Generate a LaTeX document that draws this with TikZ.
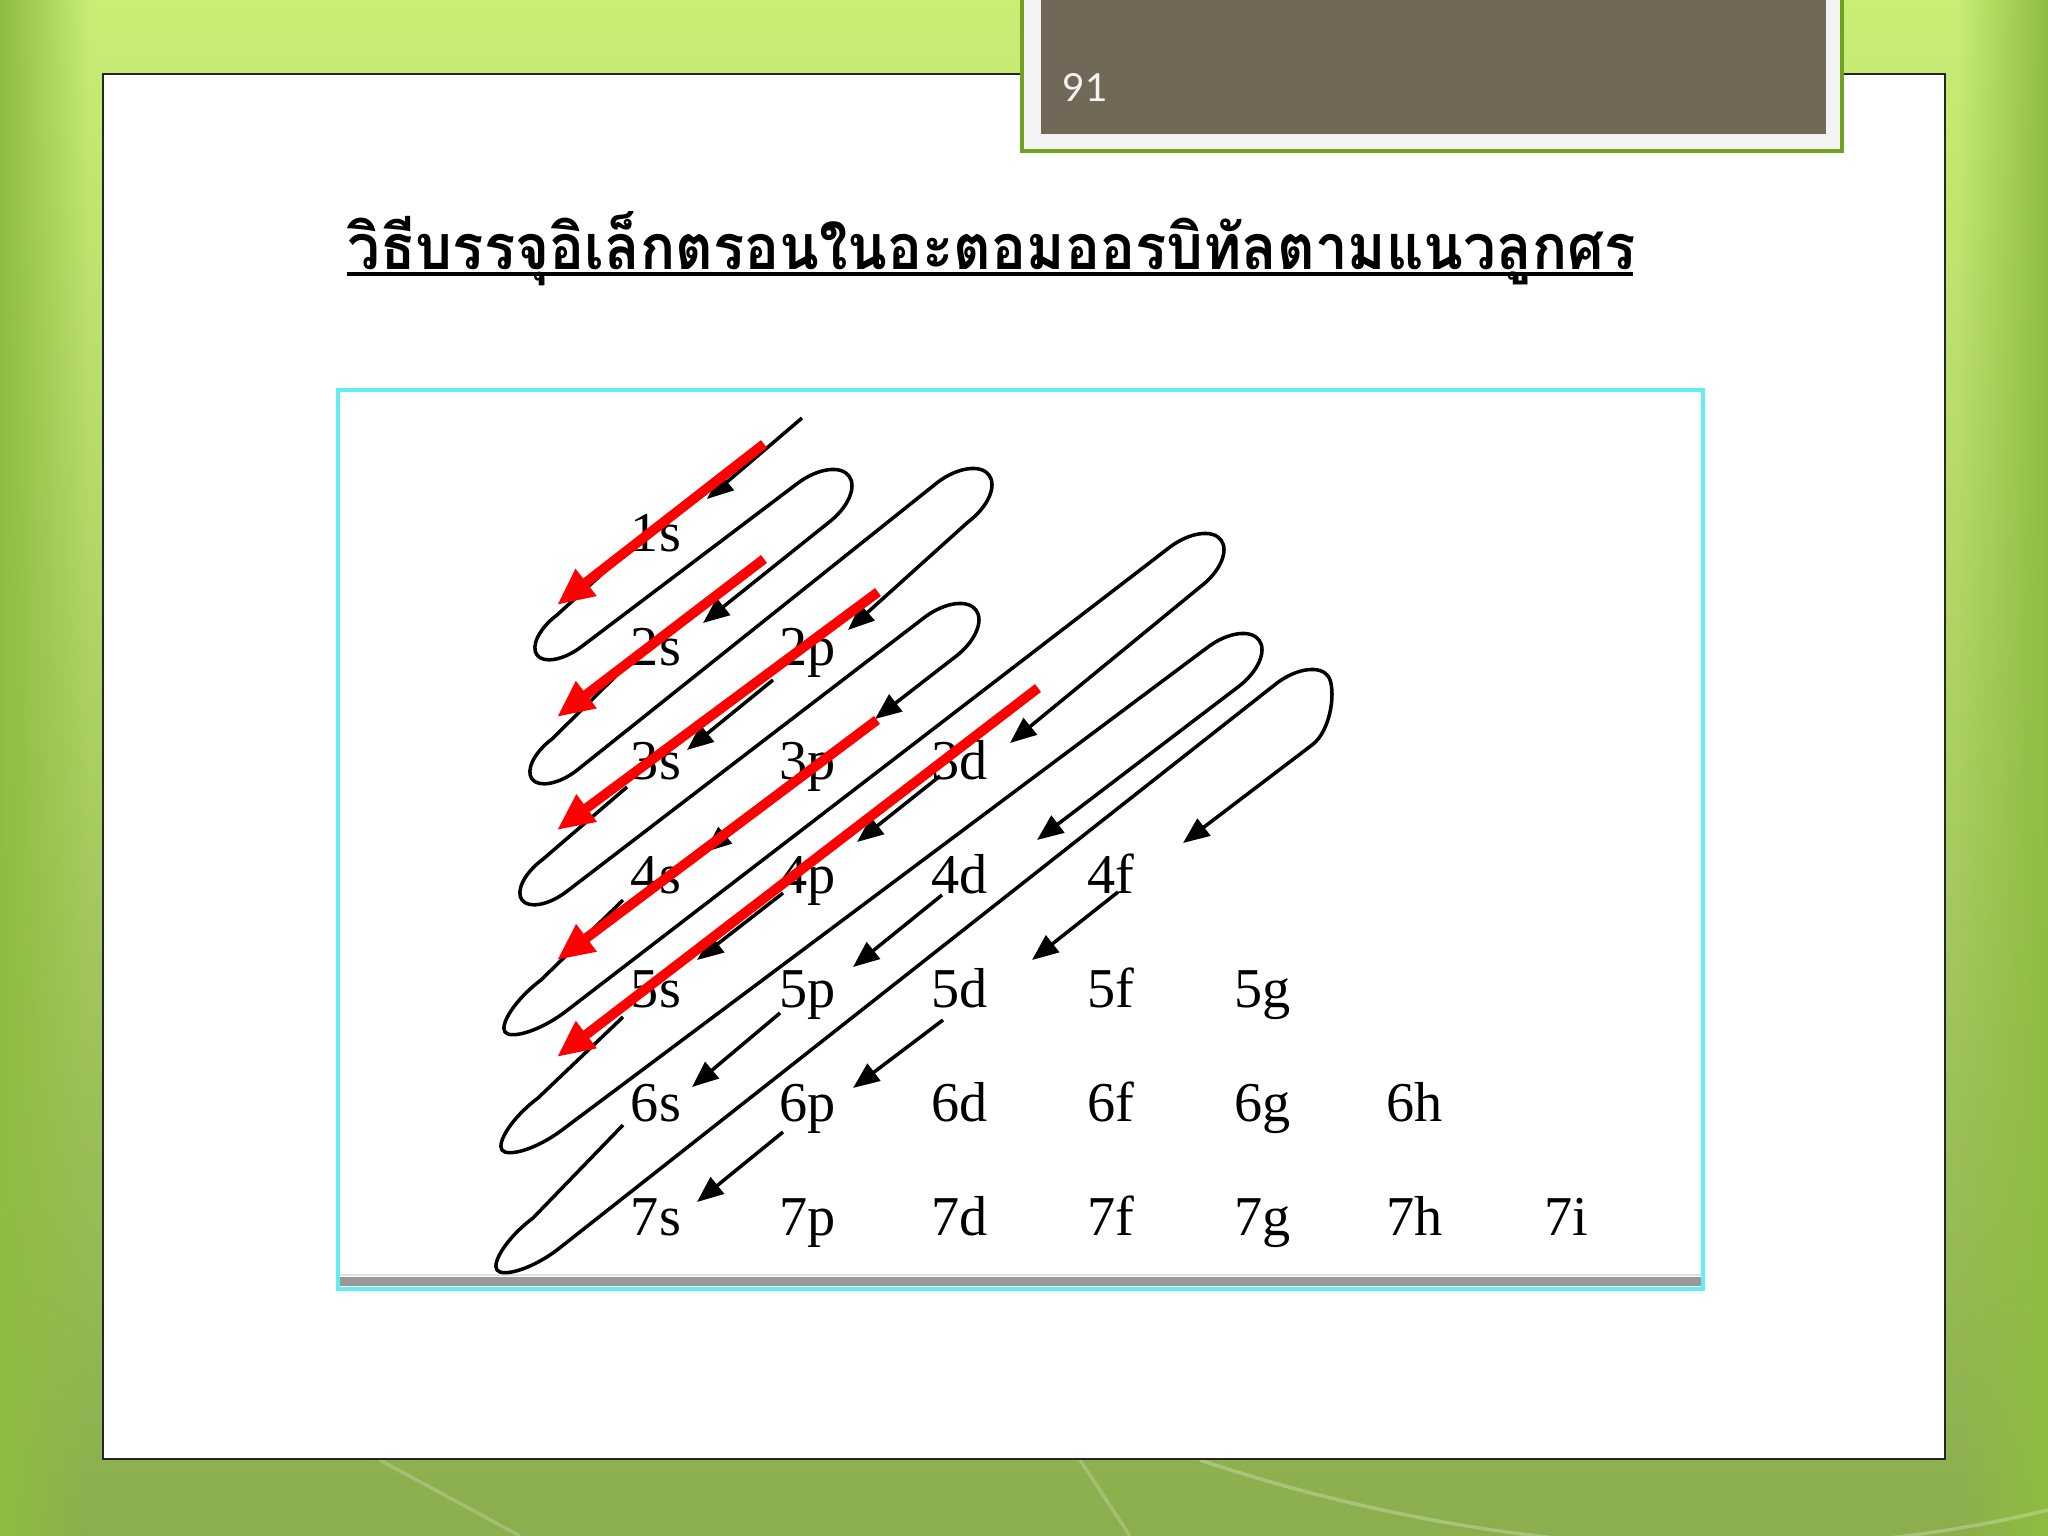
\documentclass[tikz,border=0pt]{standalone}
\usepackage{fontspec}
\setmainfont{Liberation Serif}
\newfontfamily\thaifont[Script=Thai]{Loma}
\newfontfamily\numfont{Lato}
\usetikzlibrary{arrows.meta,fadings}
\definecolor{bgtop}{HTML}{C8EE74}
\definecolor{bgbot}{HTML}{8BAE4E}
\definecolor{bgleft}{HTML}{8FBC40}
\definecolor{framegreen}{HTML}{71A21F}
\definecolor{framegray}{HTML}{F3F3F3}
\definecolor{slidebrown}{HTML}{716858}
\definecolor{cyanframe}{RGB}{100,238,242}
\begin{document}
\begin{tikzpicture}[x=0.01cm,y=-0.01cm,
  blk/.style={line width=1pt, black, line join=round},
  blkarr/.style={blk, -{Triangle[length=7.5pt,width=6pt]}},
  redarr/.style={line width=2.8pt, red, -{Triangle[length=10.5pt,width=9pt]}},
  orb/.style={anchor=base, inner sep=0pt, font=\fontsize{16}{19}\selectfont},
]
\useasboundingbox (0,0) rectangle (2048,1536);
% background
\fill[top color=bgtop, bottom color=bgbot] (0,0) rectangle (2048,1536);
\fill[bgleft, path fading=east] (0,0) rectangle (90,1536);
\fill[bgleft, path fading=west] (1958,0) rectangle (2048,1536);
\draw[white, opacity=0.25, line width=1pt] (1200,1460) .. controls (1500,1560) and (1800,1570) .. (2048,1510);
\draw[white, opacity=0.2, line width=1pt] (380,1460) -- (520,1536);
\draw[white, opacity=0.2, line width=1pt] (1080,1460) -- (1130,1536);
% slide panel
\draw[black!85, line width=0.8pt, fill=white] (103,74) rectangle (1945,1459);
% title frame with page number
\fill[framegray] (1021,0) rectangle (1843,152);
\draw[framegreen, line width=1.1pt] (1022,0) -- (1022,151) -- (1842,151) -- (1842,0);
\fill[slidebrown] (1041,0) rectangle (1826,134);
\node[anchor=base west, inner sep=0pt, text=white!92!slidebrown, font=\numfont\fontsize{11}{13}\selectfont] (pnum) at (1062,101) {91};
% title
\node[anchor=base west, inner sep=0pt] (title) at (347,269) {\resizebox{12.87cm}{0.58cm}{\thaifont\bfseries วิธีบรรจุอิเล็กตรอนในอะตอมออรบิทัลตามแนวลูกศร}};
\draw[line width=1pt] (347,274) -- (1633,274);
% picture frame
\fill[white] (338,390) rectangle (1703,1289);
\draw[black!12, line width=0.4pt] (340,1275) -- (1701,1275);
\fill[black!40] (340,1277) rectangle (1701,1286);
\draw[cyanframe, line width=1.1pt] (338,390) rectangle (1703,1289);
% orbital labels
\foreach \n in {1,...,7}{
  \foreach \l [count=\c] in {s,p,d,f,g,h,i}{
    \ifnum\c>\n\relax\else
      \node[orb] (o\n\l) at ({656+151.7*(\c-1)},{551+114*(\n-1)}) {\n\l};
    \fi
  }
}
% black snake
\draw[blkarr] (802,418) -- (707,499);
\draw[blkarr] (625,553) -- (557,615) .. controls (539.4,628.2) and (530.4,646.2) .. (537,655) .. controls (543.6,663.8) and (563.4,660.2) .. (581,647) -- (798,483) .. controls (817.8,468.2) and (840.8,465) .. (849,476) .. controls (857.3,487) and (847.8,508.2) .. (828,523) -- (703,623);
\draw[blkarr] (625,667) -- (552,739) .. controls (534.4,752.2) and (525.4,770.2) .. (532,779) .. controls (538.6,787.8) and (558.4,784.2) .. (576,771) -- (938,482) .. controls (957.8,467.2) and (980.8,464) .. (989,475) .. controls (997.3,486) and (987.8,507.2) .. (968,522) -- (848,630);
\draw[blkarr] (773,680) -- (687,750);
\draw[blkarr] (627,787) -- (542,860) .. controls (524.4,873.2) and (515.4,891.2) .. (522,900) .. controls (528.6,908.8) and (548.4,905.2) .. (566,892) -- (925,617) .. controls (944.8,602.2) and (967.8,599) .. (976,610) .. controls (984.3,621) and (974.8,642.2) .. (955,657) -- (875,719);
\draw[blkarr] (776,793) -- (705,852);
\draw[blkarr] (623,900) -- (541,980) .. controls (514.6,999.8) and (499.6,1024.8) .. (505,1032) .. controls (510.4,1039.2) and (538.6,1031.8) .. (565,1012) -- (1170,547) .. controls (1189.8,532.2) and (1212.8,529) .. (1221,540) .. controls (1229.3,551) and (1219.8,572.2) .. (1200,587) -- (1010,743);
\draw[blkarr] (940,776) -- (857,842);
\draw[blkarr] (783,893) -- (697,960);
\draw[blkarr] (623,1017) -- (538,1098) .. controls (511.6,1117.8) and (496.6,1142.8) .. (502,1150) .. controls (507.4,1157.2) and (535.6,1149.8) .. (562,1130) -- (1208,647) .. controls (1227.8,632.2) and (1250.8,629) .. (1259,640) .. controls (1267.3,651) and (1257.8,672.2) .. (1238,687) -- (1037,840);
\draw[blkarr] (942,895) -- (853,967);
\draw[blkarr] (780,1013) -- (692,1087);
\draw[blkarr] (623,1125) -- (533,1218) .. controls (506.6,1237.8) and (491.6,1262.8) .. (497,1270) .. controls (502.4,1277.2) and (530.6,1269.8) .. (557,1250) -- (1277,683) .. controls (1296.8,668.2) and (1319.8,665) .. (1328,676) .. controls (1336.3,687) and (1332,730) .. (1312,745) -- (1183,843);
\draw[blkarr] (1118,892) -- (1032,960);
\draw[blkarr] (943,1020) -- (853,1088);
\draw[blkarr] (783,1132) -- (697,1202);
% red arrows
\coordinate (ra1) at (764,444); \coordinate (rb1) at (557,605);
\coordinate (ra2) at (764,559); \coordinate (rb2) at (557,717);
\coordinate (ra3) at (878,592); \coordinate (rb3) at (557,830);
\coordinate (ra4) at (877,720); \coordinate (rb4) at (557,960);
\coordinate (ra5) at (1038,688); \coordinate (rb5) at (557,1057);
\foreach \i in {1,...,5}{\draw[redarr] (ra\i) -- (rb\i);}
\end{tikzpicture}
\end{document}
